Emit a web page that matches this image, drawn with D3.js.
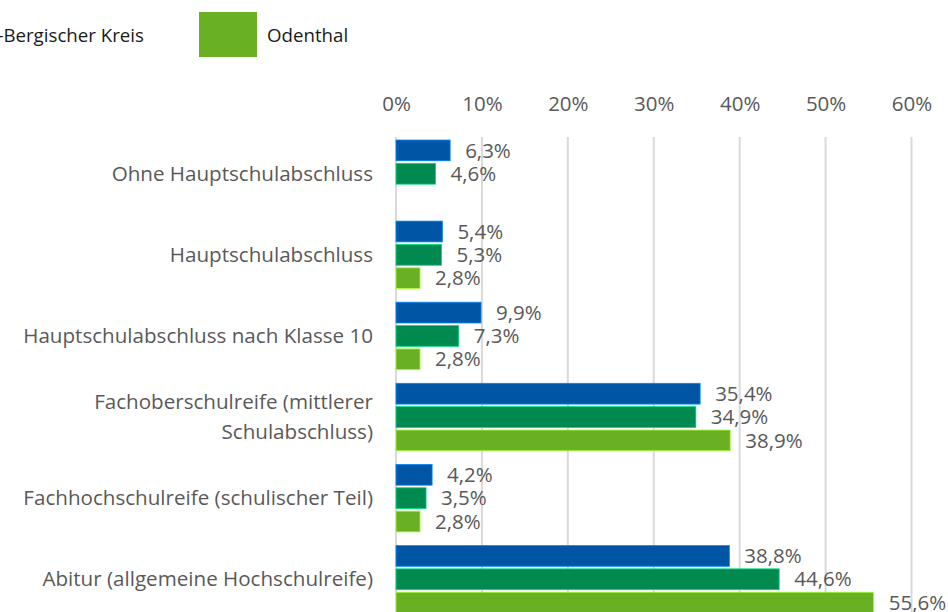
<!DOCTYPE html>
<html>
<head>
<meta charset="utf-8">
<script src="https://cdn.jsdelivr.net/npm/d3@7"></script>
<style>
  body { margin: 0; background: #fff; }
  svg { display: block; font-family: "Open Sans", sans-serif; }
</style>
</head>
<body>
<div id="chart"></div>
<script>
// Data
var categories  = [
    "Ohne Hauptschulabschluss",
    "Hauptschulabschluss",
    "Hauptschulabschluss nach Klasse 10",
    "Fachoberschulreife (mittlerer|Schulabschluss)",
    "Fachhochschulreife (schulischer Teil)",
    "Abitur (allgemeine Hochschulreife)"
];
var seriesNames = [ "Nordrhein-Westfalen", "Rheinisch-Bergischer Kreis", "Odenthal" ];
var nrw         = [ 6.3, 5.4, 9.9, 35.4, 4.2, 38.8 ];
var rbk         = [ 4.6, 5.3, 7.3, 34.9, 3.5, 44.6 ];
var odenthal    = [ null, 2.8, 2.8, 38.9, 2.8, 55.6 ];
var ticks       = [ 0, 10, 20, 30, 40, 50, 60 ];
var colors      = [ "#0056a4", "#008a50", "#6ab023" ];

var values      = [ nrw, rbk, odenthal ];

// Size
var chart_width  = 948;
var chart_height = 612;
var textColor    = "#595959";

var svg = d3.select("#chart")
    .append("svg")
    .attr("width", chart_width)
    .attr("height", chart_height);

// Scales
var x = d3.scaleLinear()
    .domain([0, 60])
    .range([396, 911.5]);

var y = d3.scaleBand()
    .domain(d3.range(categories.length))
    .range([133.2, 619.8])
    .paddingInner(0.168)
    .paddingOuter(0.084);

var y1 = d3.scaleBand()
    .domain(d3.range(seriesNames.length))
    .range([0, y.bandwidth()])
    .paddingInner(0.11);

// Gridlines
svg.selectAll("line.grid")
    .data(ticks)
    .enter()
    .append("line")
    .attr("class", "grid")
    .attr("x1", d => x(d))
    .attr("x2", d => x(d))
    .attr("y1", 137)
    .attr("y2", chart_height)
    .style("stroke", "#d9d9d9")
    .style("stroke-width", 2);

// Top axis labels
var xAxis = d3.axisTop(x)
    .tickValues(ticks)
    .tickSize(0)
    .tickPadding(0)
    .tickFormat(d => d + "%");

svg.append("g")
    .attr("transform", "translate(0,111)")
    .call(xAxis)
    .call(g => g.select(".domain").remove())
    .selectAll("text")
    .style("font-size", "20.5px")
    .style("font-family", "Open Sans, sans-serif")
    .style("fill", textColor);

// Category labels
var catLabels = svg.selectAll("text.cat")
    .data(categories)
    .enter()
    .append("text")
    .attr("class", "cat")
    .attr("text-anchor", "end")
    .style("font-size", "20.6px")
    .style("fill", textColor);

catLabels.each(function (d, i) {
    var lines = d.split("|");
    var cy = y(i) + y.bandwidth() / 2;
    var lh = 30;
    var t = d3.select(this);
    lines.forEach(function (line, j) {
        t.append("tspan")
            .attr("x", 373)
            .attr("y", cy + (j - (lines.length - 1) / 2) * lh)
            .attr("dy", "0.35em")
            .text(line);
    });
});

// Bars
var groups = svg.selectAll("g.cat")
    .data(categories)
    .enter()
    .append("g")
    .attr("class", "cat")
    .attr("transform", (d, i) => "translate(0," + y(i) + ")");

var barData = function (d, i) {
    return values
        .map((s, k) => ({ k: k, v: s[i] }))
        .filter(e => e.v !== null);
};

groups.selectAll("rect")
    .data(barData)
    .enter()
    .append("rect")
    .attr("x", x(0))
    .attr("y", e => y1(e.k))
    .attr("width", e => x(e.v) - x(0))
    .attr("height", y1.bandwidth())
    .style("fill", e => colors[e.k])
    .style("stroke", e => d3.color(colors[e.k]).brighter(1.3))
    .style("stroke-width", 0.8);

groups.selectAll("text")
    .data(barData)
    .enter()
    .append("text")
    .attr("x", e => x(e.v) + 15)
    .attr("y", e => y1(e.k) + y1.bandwidth() / 2)
    .attr("dy", "0.35em")
    .style("font-size", "20.5px")
    .style("fill", textColor)
    .text(e => d3.format(".1f")(e.v).replace(".", ",") + "%");

// Legend (laid out from the right, partly cut off on the left)
var legend = svg.append("g");
var cursor = 199;
for (var k = seriesNames.length - 1; k >= 0; k--) {
    var item = legend.append("g");
    var label = item.append("text")
        .attr("y", 35)
        .attr("dy", "0.35em")
        .style("font-size", "18.7px")
        .style("fill", "#1a1a1a")
        .text(seriesNames[k]);
    var tw = label.node().getComputedTextLength();
    var sx = (k === seriesNames.length - 1) ? cursor : cursor - 55 - tw - 10 - 58;
    item.append("rect")
        .attr("x", sx)
        .attr("y", 12)
        .attr("width", 58)
        .attr("height", 45)
        .style("fill", colors[k]);
    label.attr("x", sx + 68);
    cursor = sx;
}
</script>
</body>
</html>
